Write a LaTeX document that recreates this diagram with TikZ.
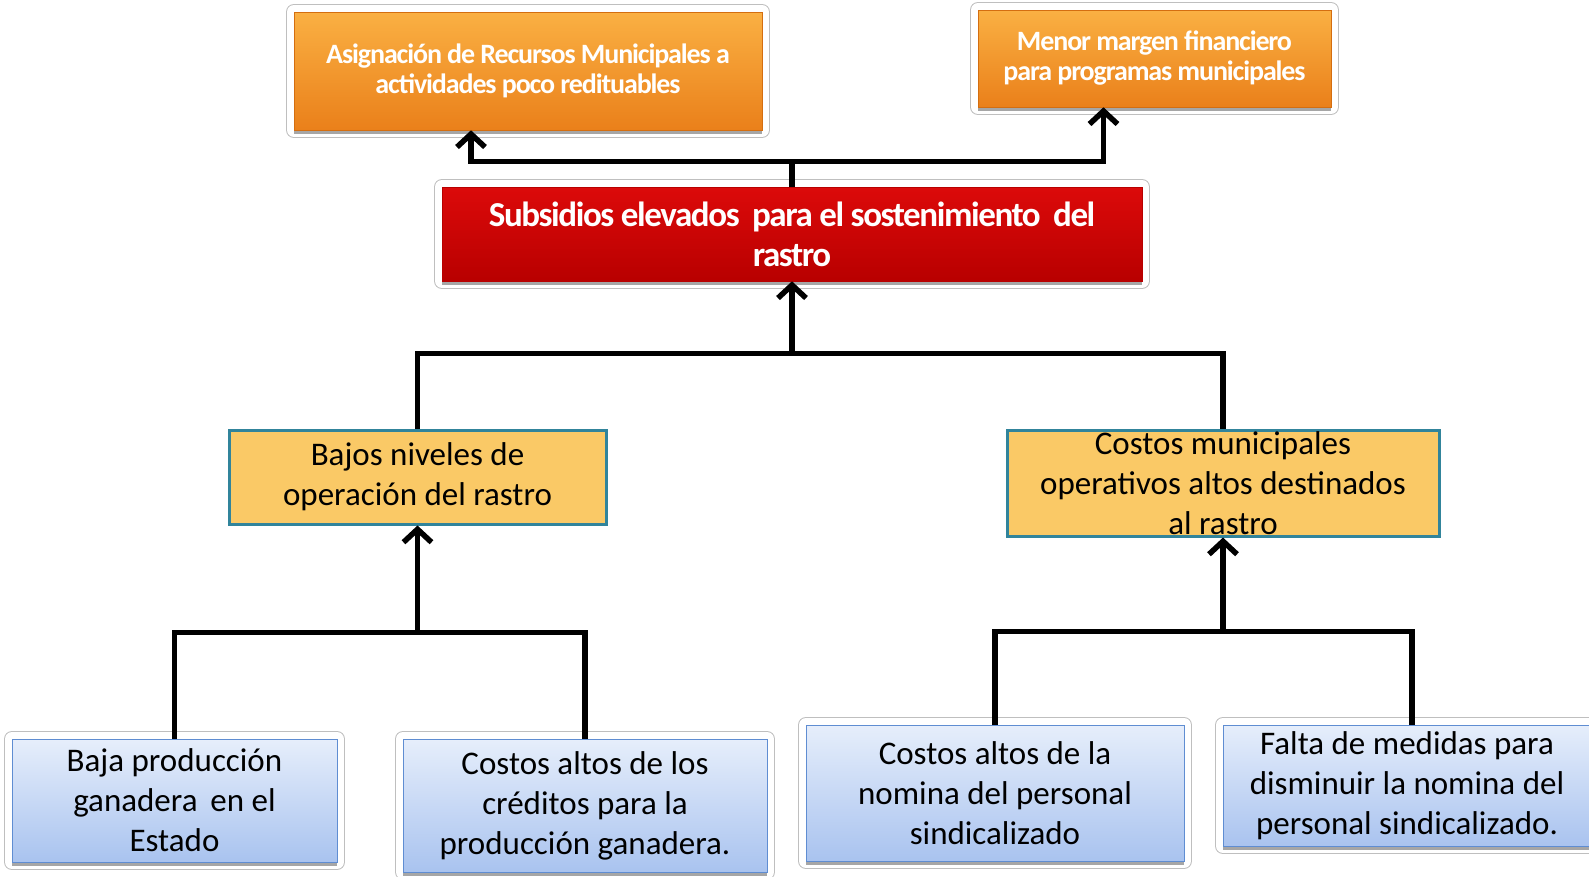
\documentclass[tikz,border=0pt]{standalone}
\usepackage{fontspec}
\setmainfont{Carlito}
\newfontfamily\headfont{Carlito}[LetterSpace=-4]
\usetikzlibrary{arrows.meta,shadows}
\definecolor{orTop}{HTML}{FAB043}
\definecolor{orBot}{HTML}{EA801A}
\definecolor{orLine}{HTML}{D46E10}
\definecolor{redTop}{HTML}{DC0A0A}
\definecolor{redBot}{HTML}{B80000}
\definecolor{yelFill}{HTML}{FAC966}
\definecolor{yelLine}{HTML}{31849B}
\definecolor{bluTop}{HTML}{E6EEFB}
\definecolor{bluBot}{HTML}{A9C3EF}
\definecolor{bluLine}{HTML}{5F8DD2}
\tikzset{
  glow/.style={preaction={draw=black!25, line width=16pt, line join=round},
               preaction={draw=white, line width=14pt, line join=round}},
  dshadow/.style={drop shadow={shadow xshift=0pt, shadow yshift=-4pt, opacity=0.35, fill=black}},
  topBox/.style={glow, dshadow, top color=orTop, bottom color=orBot, draw=orLine,
                 line width=0.6pt, text=white, align=center, inner sep=0pt,
                 font=\headfont\bfseries\fontsize{28}{30}\selectfont},
  redBox/.style={glow, dshadow, top color=redTop, bottom color=redBot, draw=redBot,
                 line width=0.6pt, text=white, align=center, inner sep=0pt,
                 font=\headfont\bfseries\fontsize{35}{40}\selectfont},
  yelBox/.style={fill=yelFill, draw=yelLine, line width=3pt, align=center, inner sep=0pt,
                 font=\fontsize{33}{40}\selectfont},
  bluBox/.style={glow, dshadow, top color=bluTop, bottom color=bluBot, draw=bluLine,
                 line width=1pt, align=center, inner sep=0pt,
                 font=\fontsize{33}{40}\selectfont},
  conn/.style={line width=5.5pt},
  arr/.style={conn, -{Straight Barb[length=13pt, width=28pt]}}
}
\begin{document}
\begin{tikzpicture}[x=1pt, y=-1pt]
  \useasboundingbox (0,0) rectangle (1589,876);
  % effects
  \node[topBox, minimum width=468, minimum height=118] (asig) at (528,71)
    {Asignación de Recursos Municipales a\\actividades poco redituables};
  \node[topBox, minimum width=353, minimum height=97] (menor) at (1154.5,58.5)
    {Menor margen financiero\\para programas municipales};
  % central problem
  \node[redBox, minimum width=700, minimum height=94] (sub) at (792,234)
    {Subsidios elevados\, para el sostenimiento\, del\\rastro};
  % causes
  \node[yelBox, minimum width=377, minimum height=94] (bajos) at (417.5,477)
    {Bajos niveles de\\operación del rastro};
  \node[yelBox, minimum width=432, minimum height=106] (costosm) at (1223,483)
    {Costos municipales\\operativos altos destinados\\al rastro};
  % root causes
  \node[bluBox, minimum width=325, minimum height=123] (baja) at (174.5,800.5)
    {Baja producción\\ganadera\, en el\\Estado};
  \node[bluBox, minimum width=364, minimum height=133] (costa) at (585,805.5)
    {Costos altos de los\\créditos para la\\producción ganadera.};
  \node[bluBox, minimum width=378, minimum height=136] (nomina) at (995,793)
    {Costos altos de la\\nomina del personal\\sindicalizado};
  \node[bluBox, minimum width=368, minimum height=121] (falta) at (1407,785.5)
    {Falta de medidas para\\disminuir la nomina del\\personal sindicalizado.};
  % connectors up to the effects
  \draw[conn] (sub.north) -- ++(0,-25) coordinate (jt);
  \draw[arr] (jt) -| ([xshift=-57pt]asig.south);
  \draw[arr] (jt) -| ([xshift=-51pt]menor.south);
  % causes -> problem
  \draw[conn] (bajos.north) -- ++(0,-75) -| (costosm.north);
  \draw[arr] (sub.south |- 0,355) -- (sub.south);
  % root causes -> causes
  \draw[conn] (baja.north) -- ++(0,-106) -| (costa.north);
  \draw[arr] (bajos.south |- 0,633) -- (bajos.south);
  \draw[conn] (nomina.north) -- ++(0,-93) -| ([xshift=5pt]falta.north);
  \draw[arr] (costosm.south |- 0,632) -- (costosm.south);
\end{tikzpicture}
\end{document}
